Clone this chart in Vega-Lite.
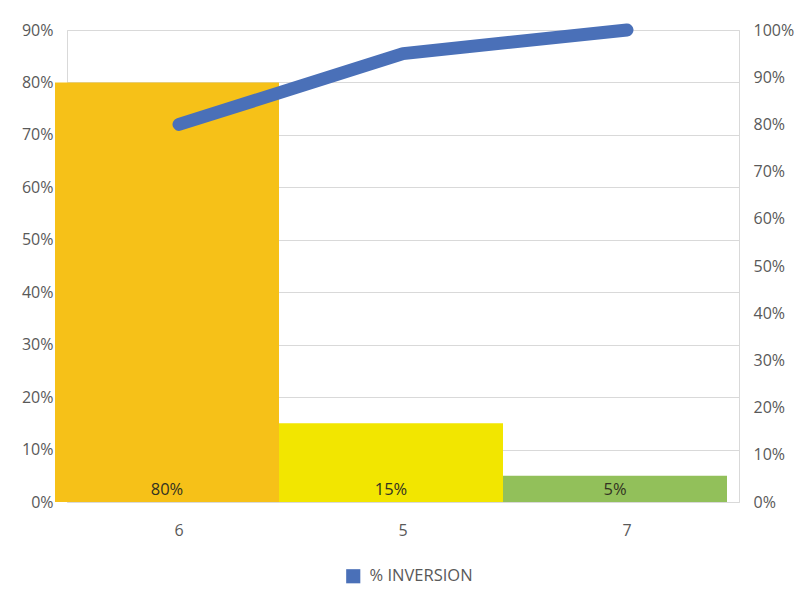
{
  "$schema": "https://vega.github.io/schema/vega-lite/v6.json",
  "width": 672,
  "height": 472,
  "autosize": {"type": "none"},
  "padding": {"left": 67, "top": 30, "right": 59, "bottom": 108},
  "background": "white",
  "config": {
    "font": "Open Sans",
    "view": {"stroke": "#d9d9d9", "strokeWidth": 1},
    "axis": {"labelFont": "Open Sans", "labelFontSize": 16, "labelColor": "#595959", "domain": false, "ticks": false, "title": null},
    "legend": {"labelFont": "Open Sans", "labelFontSize": 16.5, "labelColor": "#595959"}
  },
  "data": {
    "values": [
      {"cat": "6", "pct": 0.80, "cum": 0.80, "label": "80%"},
      {"cat": "5", "pct": 0.15, "cum": 0.95, "label": "15%"},
      {"cat": "7", "pct": 0.05, "cum": 1.00, "label": "5%"}
    ]
  },
  "encoding": {
    "x": {
      "field": "cat", "type": "nominal", "sort": null,
      "scale": {"paddingInner": 0, "paddingOuter": 0},
      "axis": {"labelAngle": 0, "labelPadding": 20, "grid": false}
    }
  },
  "layer": [
    {
      "layer": [
        {
          "mark": {"type": "bar", "xOffset": -12, "width": {"band": 1.0}},
          "encoding": {
            "y": {
              "field": "pct", "type": "quantitative",
              "scale": {"domain": [0, 0.9], "nice": false},
              "axis": {"format": ".0%", "values": [0, 0.1, 0.2, 0.3, 0.4, 0.5, 0.6, 0.7, 0.8, 0.9], "grid": true, "gridColor": "#d9d9d9", "labelPadding": 14, "orient": "left"}
            },
            "color": {
              "field": "cat", "type": "nominal",
              "scale": {"domain": ["6", "5", "7"], "range": ["#F6C118", "#F2E600", "#92C05A"]},
              "legend": null
            }
          }
        },
        {
          "mark": {"type": "text", "xOffset": -12, "baseline": "middle", "dy": -12, "fontSize": 16.5, "color": "#333322", "font": "Open Sans"},
          "encoding": {
            "y": {"datum": 0, "type": "quantitative"},
            "text": {"field": "label"}
          }
        }
      ]
    },
    {
      "mark": {"type": "line", "strokeWidth": 13, "strokeCap": "round", "strokeJoin": "round"},
      "encoding": {
        "y": {
          "field": "cum", "type": "quantitative",
          "scale": {"domain": [0, 1], "nice": false},
          "axis": {"format": ".0%", "values": [0, 0.1, 0.2, 0.3, 0.4, 0.5, 0.6, 0.7, 0.8, 0.9, 1], "grid": false, "orient": "right", "labelPadding": 14}
        },
        "color": {
          "datum": "% INVERSION",
          "scale": {"range": ["#4A70B8"]},
          "legend": {"orient": "none", "legendX": 278, "legendY": 538, "direction": "horizontal", "symbolType": "square", "symbolSize": 200, "symbolFillColor": "#4A70B8", "symbolStrokeColor": "#4A70B8", "symbolStrokeWidth": 0, "title": null, "labelOffset": 8}
        }
      }
    }
  ],
  "resolve": {"scale": {"y": "independent", "color": "independent"}}
}
